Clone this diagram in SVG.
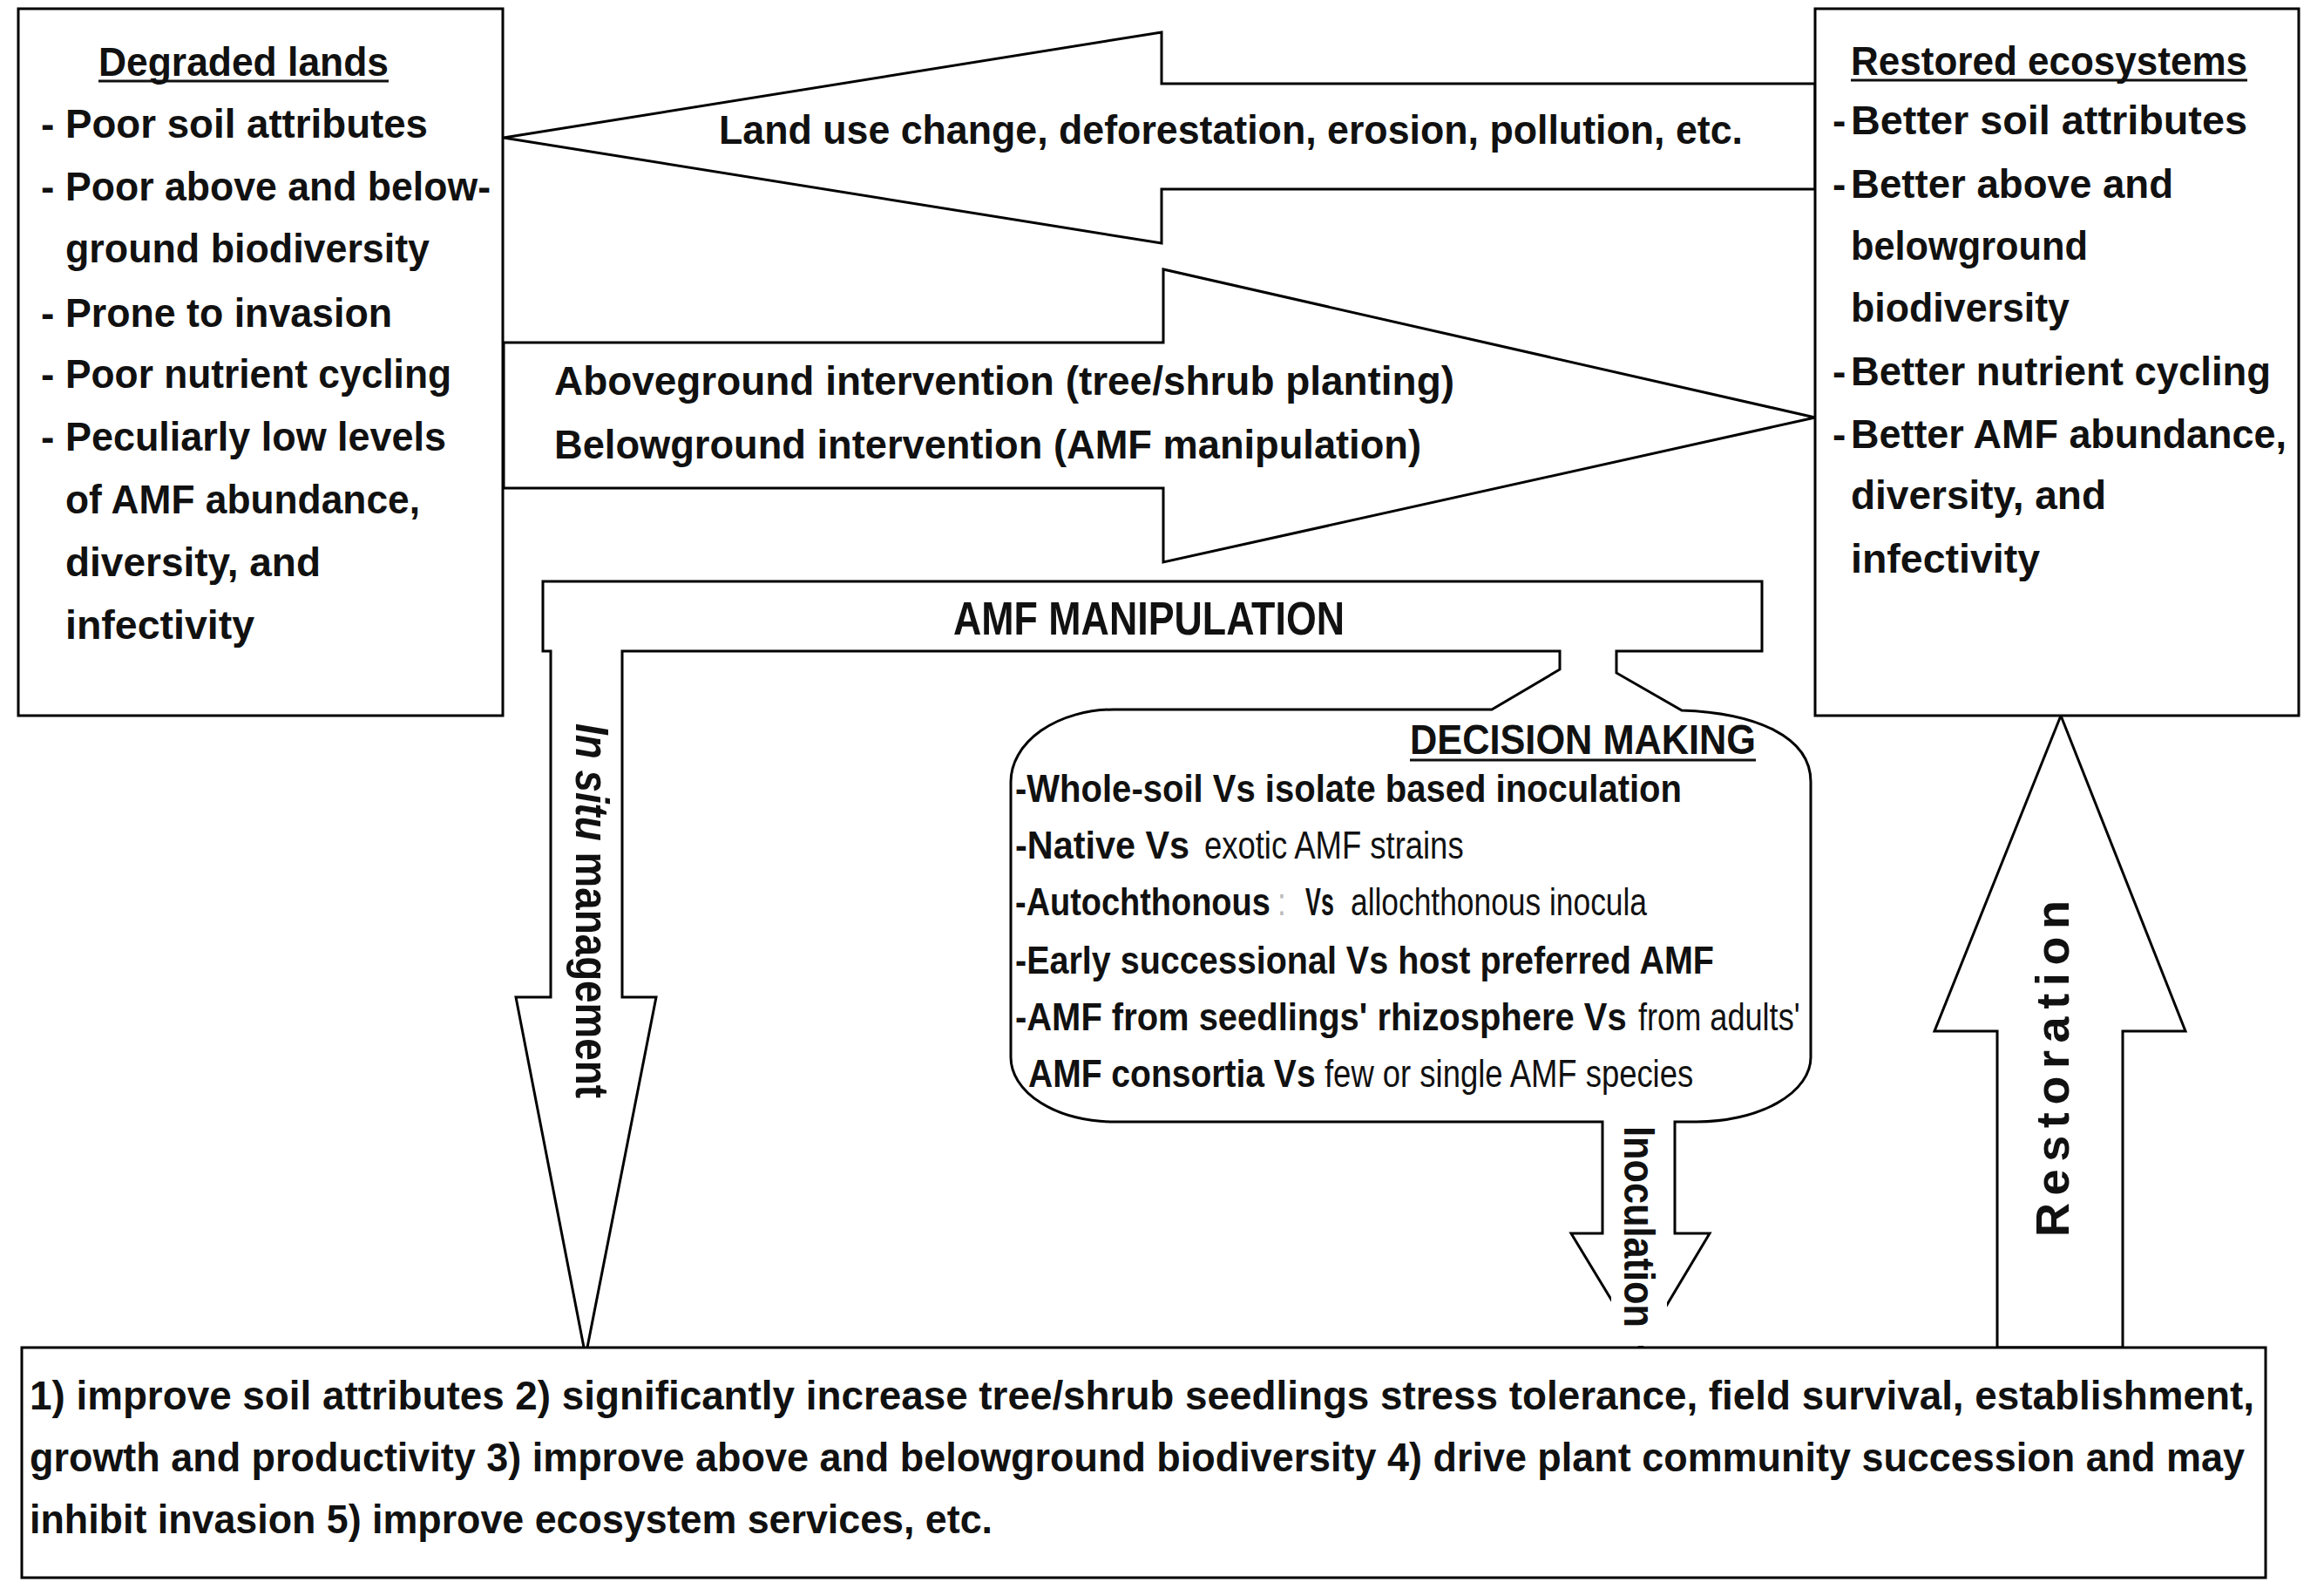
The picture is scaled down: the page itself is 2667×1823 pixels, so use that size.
<svg xmlns="http://www.w3.org/2000/svg" width="2667" height="1823" viewBox="0 0 2667 1823">
<style>
.box{fill:#fff;stroke:#000;stroke-width:3}
.arrow{fill:#fff;stroke:#000;stroke-width:3;stroke-linejoin:miter}
.t{font-family:'Liberation Sans Narrow','Liberation Sans',Arial,sans-serif;font-weight:bold;font-size:46px;fill:#111}
.d{font-size:44px}
.r{font-weight:normal}
.ul{stroke:#111;stroke-width:3}
.rot{font-family:'Liberation Sans','DejaVu Sans',Arial,sans-serif;font-weight:bold;fill:#111}
</style>
<rect width="2667" height="1823" fill="#fff"/>
<g id="connectors">
  <path id="arrow-degradation" class="arrow" d="M 578 158 L 1333 37 V 96 H 2083 V 217 H 1333 V 279 Z"/>
  <path id="arrow-intervention" class="arrow" d="M 578 393 H 1335 V 309 L 2083 479 L 1335 645 V 560 H 578 Z"/>
  <path id="arrow-restoration" class="arrow" d="M 2365 821 L 2508 1183 H 2436 V 1546 H 2292 V 1183 H 2220 Z"/>
  <path id="amf-manipulation-arrows" class="arrow" d="M 623 667 H 2022 V 747 H 1855 V 772 L 1930 815 C 2015 818 2078 845 2078 897 V 1213 A 131 74 0 0 1 1947 1287 H 1922 V 1415 H 1962 L 1883 1547 L 1803 1415 H 1839 V 1287 H 1278 A 118 74 0 0 1 1160 1213 V 897 A 118 83 0 0 1 1278 814 H 1712 L 1790 768 V 747 H 714 V 1144 H 753 L 672 1556 L 592 1144 H 632 V 747 H 623 Z"/>
  <text class="t" x="825" y="165" textLength="1175" lengthAdjust="spacingAndGlyphs">Land use change, deforestation, erosion, pollution, etc.</text>
  <text class="t" x="636" y="453" textLength="1033" lengthAdjust="spacingAndGlyphs">Aboveground intervention (tree/shrub planting)</text>
  <text class="t" x="636" y="526" textLength="995" lengthAdjust="spacingAndGlyphs">Belowground intervention (AMF manipulation)</text>
  <text class="t" x="1094" y="728" style="font-size:54px" textLength="449" lengthAdjust="spacingAndGlyphs">AMF MANIPULATION</text>
  <text class="rot" transform="translate(661,830) rotate(90)" style="font-size:54px" textLength="430" lengthAdjust="spacingAndGlyphs"><tspan font-style="italic">In situ</tspan> management</text>
  <rect x="1849" y="1400" width="64" height="144" fill="#fff"/>
  <text class="rot" transform="translate(1864,1292) rotate(90)" style="font-size:50px" textLength="231" lengthAdjust="spacingAndGlyphs">Inoculation</text>
  <text class="rot" transform="translate(2374,1419) rotate(-90)" style="font-size:54px" textLength="386" lengthAdjust="spacing">Restoration</text>
</g>
<g id="degraded-lands">
  <rect class="box" x="21" y="10" width="556" height="811"/>
  <text class="t" x="113" y="87" textLength="333" lengthAdjust="spacingAndGlyphs">Degraded lands</text>
  <line class="ul" x1="113" y1="93" x2="446" y2="93"/>
  <text class="t" x="47" y="158">-</text><text class="t" x="75" y="158" textLength="416" lengthAdjust="spacingAndGlyphs">Poor soil attributes</text>
  <text class="t" x="47" y="230">-</text><text class="t" x="75" y="230" textLength="488" lengthAdjust="spacingAndGlyphs">Poor above and below-</text>
  <text class="t" x="75" y="301" textLength="418" lengthAdjust="spacingAndGlyphs">ground biodiversity</text>
  <text class="t" x="47" y="375">-</text><text class="t" x="75" y="375" textLength="375" lengthAdjust="spacingAndGlyphs">Prone to invasion</text>
  <text class="t" x="47" y="445">-</text><text class="t" x="75" y="445" textLength="443" lengthAdjust="spacingAndGlyphs">Poor nutrient cycling</text>
  <text class="t" x="47" y="517">-</text><text class="t" x="75" y="517" textLength="437" lengthAdjust="spacingAndGlyphs">Peculiarly low levels</text>
  <text class="t" x="75" y="589" textLength="407" lengthAdjust="spacingAndGlyphs">of AMF abundance,</text>
  <text class="t" x="75" y="661" textLength="293" lengthAdjust="spacingAndGlyphs">diversity, and</text>
  <text class="t" x="75" y="733" textLength="217" lengthAdjust="spacingAndGlyphs">infectivity</text>
</g>
<g id="restored-ecosystems">
  <rect class="box" x="2083" y="10" width="555" height="811"/>
  <text class="t" x="2124" y="86" textLength="455" lengthAdjust="spacingAndGlyphs">Restored ecosystems</text>
  <line class="ul" x1="2124" y1="92" x2="2579" y2="92"/>
  <text class="t" x="2103" y="154">-</text><text class="t" x="2124" y="154" textLength="455" lengthAdjust="spacingAndGlyphs">Better soil attributes</text>
  <text class="t" x="2103" y="227">-</text><text class="t" x="2124" y="227" textLength="370" lengthAdjust="spacingAndGlyphs">Better above and</text>
  <text class="t" x="2124" y="298" textLength="272" lengthAdjust="spacingAndGlyphs">belowground</text>
  <text class="t" x="2124" y="369" textLength="251" lengthAdjust="spacingAndGlyphs">biodiversity</text>
  <text class="t" x="2103" y="442">-</text><text class="t" x="2124" y="442" textLength="482" lengthAdjust="spacingAndGlyphs">Better nutrient cycling</text>
  <text class="t" x="2103" y="514">-</text><text class="t" x="2124" y="514" textLength="500" lengthAdjust="spacingAndGlyphs">Better AMF abundance,</text>
  <text class="t" x="2124" y="584" textLength="293" lengthAdjust="spacingAndGlyphs">diversity, and</text>
  <text class="t" x="2124" y="657" textLength="217" lengthAdjust="spacingAndGlyphs">infectivity</text>
</g>
<g id="decision-making">
  <text class="t" x="1618" y="865" style="font-size:48px" textLength="397" lengthAdjust="spacingAndGlyphs">DECISION MAKING</text>
  <line class="ul" x1="1618" y1="872" x2="2015" y2="872"/>
  <text class="t d" x="1165" y="920" textLength="765" lengthAdjust="spacingAndGlyphs">-Whole-soil Vs isolate based inoculation</text>
  <text class="t d" transform="translate(1165,985) scale(0.8,1)" textLength="250" lengthAdjust="spacingAndGlyphs">-Native Vs</text>
  <text class="t d r" transform="translate(1382,985) scale(0.8,1)" textLength="372" lengthAdjust="spacingAndGlyphs">exotic AMF strains</text>
  <text class="t d" transform="translate(1165,1050) scale(0.8,1)" textLength="366" lengthAdjust="spacingAndGlyphs">-Autochthonous</text>
  <text class="t d r" transform="translate(1466,1050) scale(0.8,1)" style="fill:#bbb">:</text>
  <text class="t d" transform="translate(1498,1050) scale(0.8,1)" textLength="41" lengthAdjust="spacingAndGlyphs">Vs</text>
  <text class="t d r" transform="translate(1550,1050) scale(0.8,1)" textLength="425" lengthAdjust="spacingAndGlyphs">allochthonous inocula</text>
  <text class="t d" x="1165" y="1117" textLength="802" lengthAdjust="spacingAndGlyphs">-Early successional Vs host preferred AMF</text>
  <text class="t d" transform="translate(1165,1182) scale(0.8,1)" textLength="877" lengthAdjust="spacingAndGlyphs">-AMF from seedlings' rhizosphere Vs</text>
  <text class="t d r" transform="translate(1880,1182) scale(0.8,1)" textLength="232" lengthAdjust="spacingAndGlyphs">from adults'</text>
  <text class="t d" transform="translate(1180,1247) scale(0.8,1)" textLength="412" lengthAdjust="spacingAndGlyphs">AMF consortia Vs</text>
  <text class="t d r" transform="translate(1520,1247) scale(0.8,1)" textLength="529" lengthAdjust="spacingAndGlyphs">few or single AMF species</text>
</g>
<g id="outcomes">
  <rect class="box" x="25" y="1546" width="2575" height="264"/>
  <text class="t" x="34" y="1617" textLength="2553" lengthAdjust="spacingAndGlyphs">1) improve soil attributes 2) significantly increase tree/shrub seedlings stress tolerance, field survival, establishment,</text>
  <text class="t" x="34" y="1688" textLength="2542" lengthAdjust="spacingAndGlyphs">growth and productivity 3) improve above and belowground biodiversity 4) drive plant community succession and may</text>
  <text class="t" x="34" y="1759" textLength="1105" lengthAdjust="spacingAndGlyphs">inhibit invasion 5) improve ecosystem services, etc.</text>
</g>
</svg>
